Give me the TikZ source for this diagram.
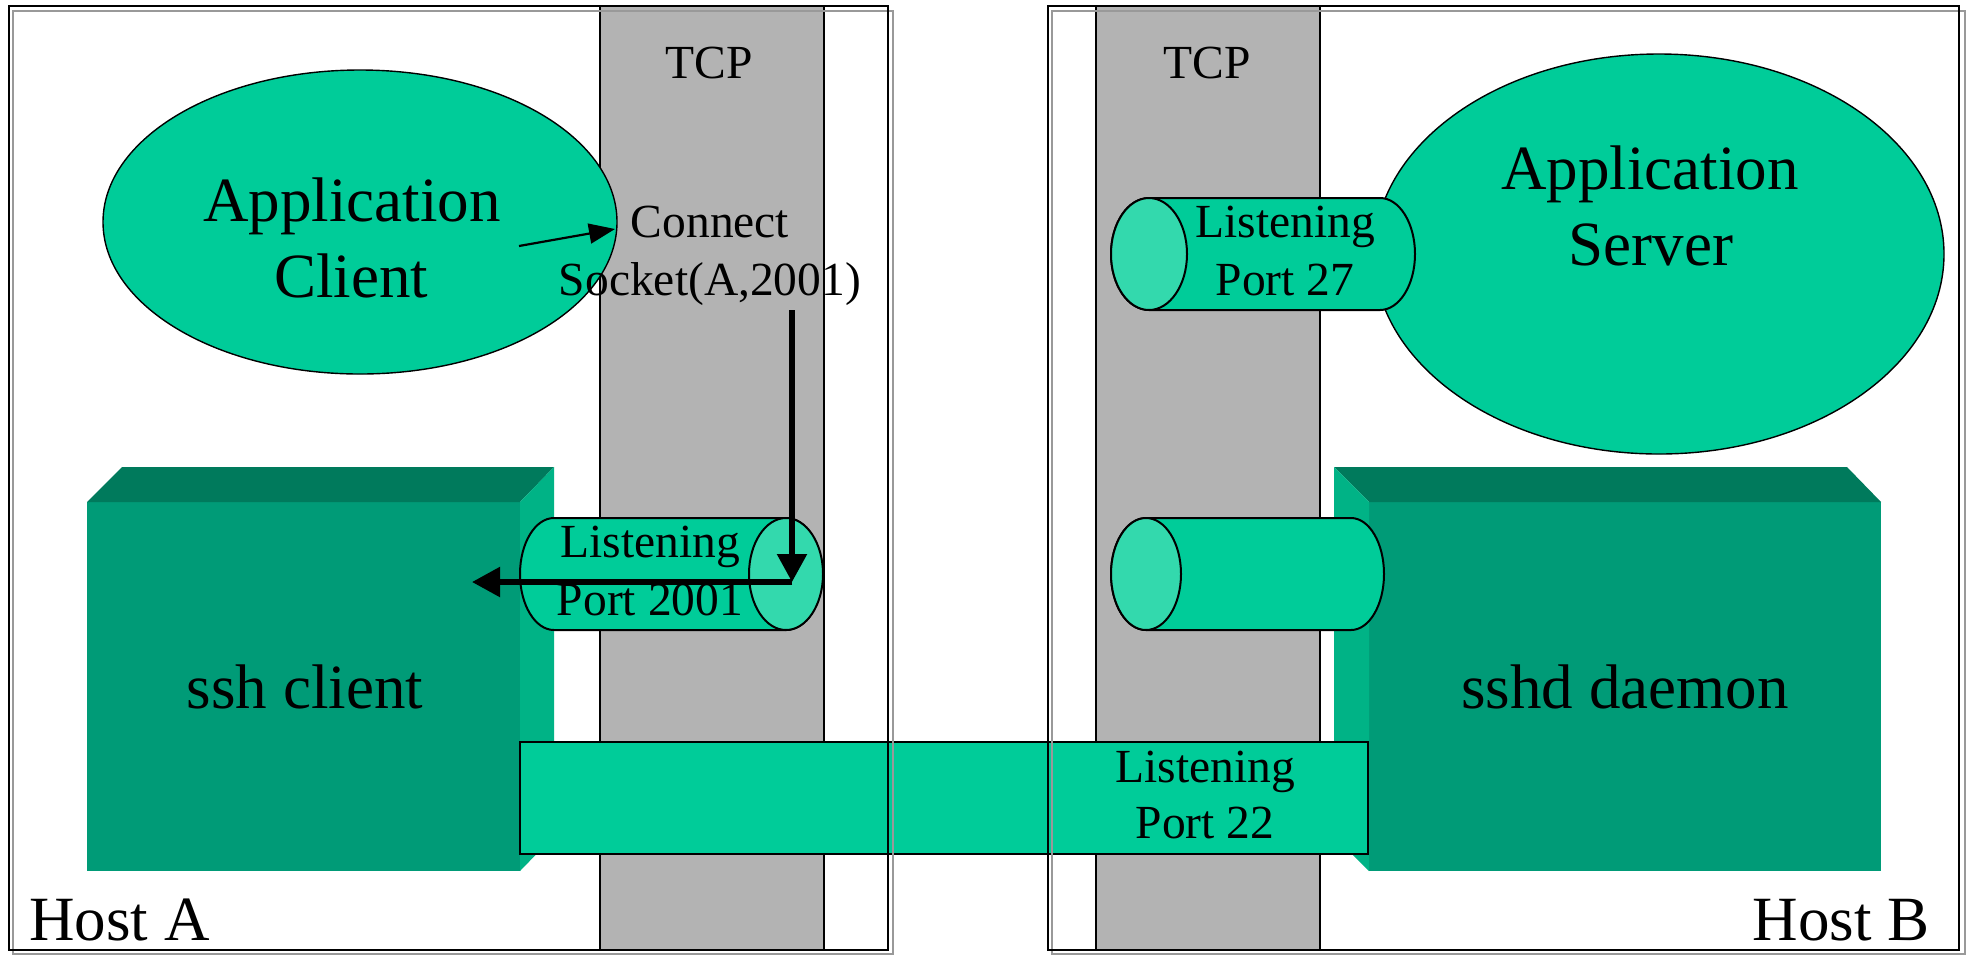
\documentclass[tikz,border=0pt]{standalone}
\usepackage{fontspec}
\setmainfont{Liberation Serif}
\usetikzlibrary{arrows.meta}
\definecolor{bodyc}{HTML}{00CC99}
\definecolor{facec}{HTML}{33D9AD}
\definecolor{frontc}{HTML}{009B77}
\definecolor{topc}{HTML}{007A5C}
\definecolor{sidec}{HTML}{00B386}
\definecolor{tcpc}{HTML}{B3B3B3}
\definecolor{framegray}{HTML}{999999}
\begin{document}
\begin{tikzpicture}[x=0.5pt,y=-0.5pt,
  big/.style={font=\fontsize{31.5}{38}\selectfont, inner sep=0pt, anchor=base},
  small/.style={font=\fontsize{23.75}{29}\selectfont, inner sep=0pt, anchor=base},
  tcpcol/.style={fill=tcpc, draw=black, line width=0.8pt},
  app/.style={fill=bodyc, draw=black, line width=0.7pt},
  cylbody/.style={fill=bodyc, draw=black, line width=1pt},
  cylface/.style={fill=facec, draw=black, line width=1pt},
  bar/.style={fill=bodyc, draw=black, line width=1pt},
  hostblack/.style={draw=black, line width=1pt},
  hostgray/.style={draw=framegray, line width=0.8pt},
  bigarrow/.style={line width=2.7pt, -{Triangle[length=14pt,width=14.5pt]}},
  smallarrow/.style={line width=1.1pt, -{Triangle[length=13pt,width=10pt]}}
]
\useasboundingbox (0,0) rectangle (1969,955);
\fill[white] (0,0) rectangle (1969,955);

% TCP columns
\path[tcpcol] (600,6) rectangle (824,950);
\path[tcpcol] (1096,6) rectangle (1320,950);
\node[small] (tcpA) at (709,78) {TCP};
\node[small] (tcpB) at (1207,78) {TCP};

% Application client
\path[app] (360,222) ellipse[x radius=128.5pt, y radius=76pt];
\node[big] (ac1) at (352,221) {Application};
\node[big] (ac2) at (351,297) {Client};

% Application server
\path[app] (1659,254) ellipse[x radius=142.5pt, y radius=100pt];
\node[big] (as1) at (1650,189) {Application};
\node[big] (as2) at (1651,265) {Server};

% ssh client box
\fill[frontc] (87,502) rectangle (520,871);
\fill[topc] (87,502) -- (122,467) -- (554,467) -- (520,502) -- cycle;
\fill[sidec] (520,502) -- (554,467) -- (554,836) -- (520,871) -- cycle;
\node[big] (sshc) at (305,708) {ssh client};

% sshd daemon box
\fill[frontc] (1369,502) rectangle (1881,871);
\fill[topc] (1334,467) -- (1847,467) -- (1881,502) -- (1369,502) -- cycle;
\fill[sidec] (1334,467) -- (1369,502) -- (1369,871) -- (1334,836) -- cycle;
\node[big] (sshd) at (1625,708) {sshd daemon};

% Cylinder port 2001 (host A)
\path[cylbody] (554,518) -- (786,518) arc[start angle=90,end angle=-90,x radius=18pt,y radius=28pt]
  -- (554,630) arc[start angle=270,end angle=90,x radius=17pt,y radius=28pt] -- cycle;
\path[cylface] (786,574) ellipse[x radius=18.5pt, y radius=28pt];
\node[small] (p2001a) at (650,557) {Listening};
\node[small] (p2001b) at (650,615) {Port 2001};

% Cylinder port 27 (host B)
\path[cylbody] (1149,198) -- (1380,198) arc[start angle=90,end angle=-90,x radius=17.5pt,y radius=28pt]
  -- (1149,310) arc[start angle=270,end angle=90,x radius=19pt,y radius=28pt] -- cycle;
\path[cylface] (1149,254) ellipse[x radius=19pt, y radius=28pt];
\node[small] (p27a) at (1285,237) {Listening};
\node[small] (p27b) at (1285,295) {Port 27};

% Cylinder (host B, lower)
\path[cylbody] (1146,518) -- (1351,518) arc[start angle=90,end angle=-90,x radius=16.5pt,y radius=28pt]
  -- (1146,630) arc[start angle=270,end angle=90,x radius=17.5pt,y radius=28pt] -- cycle;
\path[cylface] (1146,574) ellipse[x radius=17.5pt, y radius=28pt];

% Port 22 bar
\path[bar] (520,742) rectangle (1368,854);
\node[small] (p22a) at (1205,782) {Listening};
\node[small] (p22b) at (1205,838) {Port 22};

% Connect socket text
\node[small] (con1) at (710,237) {Connect};
\node[small] (con2) at (710,295) {Socket(A,2001)};

% arrows
\coordinate (a1s) at (519,246);
\coordinate (a1e) at (615,229);
\coordinate (vs) at (792,310);
\coordinate (corner) at (792,582);
\coordinate (he) at (472,582);
\draw[smallarrow] (a1s) -- (a1e);
\draw[bigarrow] (vs) -- (corner);
\draw[bigarrow] (corner) -- (he);

% host frames
\path[hostgray] (13,11) rectangle (893,954);
\path[hostblack] (9,6) rectangle (888,950);
\path[hostgray] (1052,11) rectangle (1965,954);
\path[hostblack] (1048,6) rectangle (1959,950);
\node[big, anchor=base west] (hostA) at (29,940) {Host A};
\node[big, anchor=base east] (hostB) at (1930,940) {Host B};
\end{tikzpicture}
\end{document}
